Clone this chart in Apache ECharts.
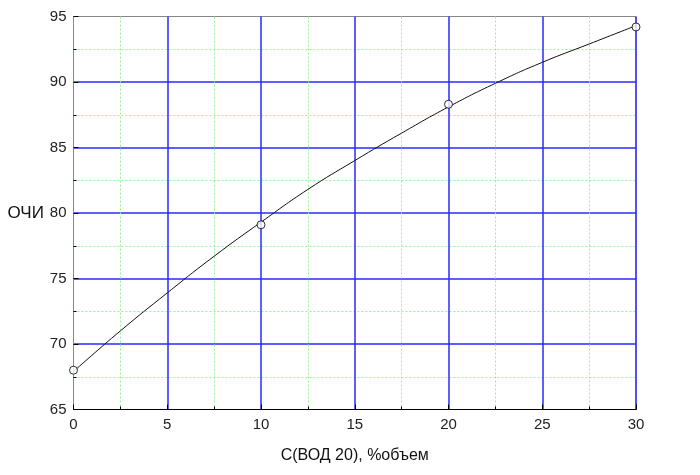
<!DOCTYPE html>
<html>
<head>
<meta charset="utf-8">
<script src="https://cdn.jsdelivr.net/npm/echarts@6/dist/echarts.min.js"></script>
<style>html,body{margin:0;padding:0;background:#fff}#c{width:700px;height:475px}</style>
</head>
<body>
<div id="c"></div>
<script>
// measured points
var pointX = [0, 10, 20, 30];
var pointY = [68.0, 79.1, 88.3, 94.2];
// fitted curve
var curveX = [0, 2.5, 5, 7.5, 10, 12.5, 15, 17.5, 20, 22.5, 25, 27.5, 30];
var curveY = [67.9, 71.0, 73.9, 76.7, 79.3, 81.8, 84.0, 86.1, 88.1, 89.9, 91.5, 92.9, 94.3];
var xTicks = [0, 5, 10, 15, 20, 25, 30];
var yTicks = [65, 70, 75, 80, 85, 90, 95];
var xName = 'С(ВОД 20), %объем';
var yName = 'ОЧИ';

var chart = echarts.init(document.getElementById('c'), null, {renderer: 'canvas'});
var font = 'Liberation Sans, Arial, sans-serif';
chart.setOption({
  animation: false,
  backgroundColor: '#fff',
  grid: {left: 73.5, right: 64, top: 16.5, bottom: 65.5, show: true, borderColor: '#888', borderWidth: 1},
  xAxis: {
    type: 'value', min: xTicks[0], max: xTicks[xTicks.length - 1], interval: 5,
    name: xName, nameLocation: 'middle', nameGap: 46,
    nameTextStyle: {fontFamily: font, fontSize: 16, color: '#111', verticalAlign: 'middle'},
    axisLine: {show: true, lineStyle: {color: '#000', width: 1}},
    axisTick: {show: true, inside: true, length: 5, lineStyle: {color: '#000'}},
    minorTick: {show: true, splitNumber: 2, length: 3, lineStyle: {color: '#000'}},
    axisLabel: {fontFamily: font, fontSize: 15, color: '#222', margin: 8},
    splitLine: {show: true, showMinLine: false, lineStyle: {color: '#2a2aff', width: 1.5}},
    minorSplitLine: {show: true, lineStyle: {color: '#99ee99', type: [2, 2], width: 1}}
  },
  yAxis: {
    type: 'value', min: yTicks[0], max: yTicks[yTicks.length - 1], interval: 5,
    name: yName, nameLocation: 'middle', nameRotate: 0, nameGap: 44,
    nameTextStyle: {fontFamily: font, fontSize: 17, color: '#111', align: 'center', verticalAlign: 'middle', padding: [30, 0, 0, 0]},
    axisLine: {show: true, lineStyle: {color: '#888', width: 1}},
    axisTick: {show: true, inside: true, length: 5, lineStyle: {color: '#000'}},
    minorTick: {show: true, splitNumber: 2, length: 3, lineStyle: {color: '#000'}},
    axisLabel: {fontFamily: font, fontSize: 15, color: '#222', margin: 7},
    splitLine: {show: true, showMinLine: false, showMaxLine: false, lineStyle: {color: '#2a2aff', width: 1.5}},
    minorSplitLine: {show: true, lineStyle: {color: '#99ee99', type: [2, 2], width: 1}}
  },
  series: [
    {
      type: 'line', smooth: true, showSymbol: false, symbol: 'none',
      data: curveX.map(function (x, i) { return [x, curveY[i]]; }),
      lineStyle: {color: '#111', width: 1}, z: 3
    },
    {
      type: 'scatter', symbol: 'circle', symbolSize: 8,
      data: pointX.map(function (x, i) { return [x, pointY[i]]; }),
      itemStyle: {color: '#fff', borderColor: '#000', borderWidth: 1}, z: 4
    }
  ]
});
</script>
</body>
</html>
